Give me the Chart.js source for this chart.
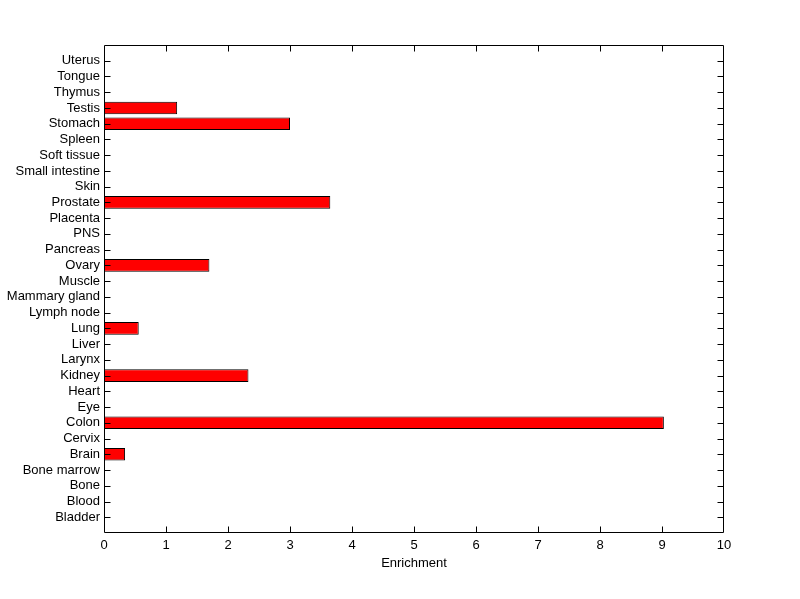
<!DOCTYPE html>
<html>
<head>
<meta charset="utf-8">
<script src="https://cdn.jsdelivr.net/npm/chart.js@4/dist/chart.umd.min.js"></script>
<style>
  html, body { margin: 0; padding: 0; background: #fff; }
  #wrap { width: 800px; height: 599px; }
</style>
</head>
<body>
<div id="wrap"><canvas id="chart" width="800" height="599"></canvas></div>
<script>
// tissues listed bottom to top, as in the figure
const tissues = ['Bladder', 'Blood', 'Bone', 'Bone marrow', 'Brain', 'Cervix', 'Colon', 'Eye',
  'Heart', 'Kidney', 'Larynx', 'Liver', 'Lung', 'Lymph node', 'Mammary gland', 'Muscle',
  'Ovary', 'Pancreas', 'PNS', 'Placenta', 'Prostate', 'Skin', 'Small intestine',
  'Soft tissue', 'Spleen', 'Stomach', 'Testis', 'Thymus', 'Tongue', 'Uterus'];
const enrichment = [0, 0, 0, 0, 0.34, 0, 9.03, 0, 0, 2.33, 0, 0, 0.56, 0, 0, 0,
  1.70, 0, 0, 0, 3.65, 0, 0, 0, 0, 3.0, 1.18, 0, 0, 0];
const xTicks = [0, 1, 2, 3, 4, 5, 6, 7, 8, 9, 10];

const FONT = { family: 'Arial, "Liberation Sans", Helvetica, sans-serif', size: 13 };

// category axis runs top-down; pad with blank slots so the range is [0, n+1] like matlab
const labels = [''].concat(tissues.slice().reverse(), ['']);
const values = [null].concat(enrichment.slice().reverse().map(v => v === 0 ? null : v), [null]);

// box around the axes and inward tick marks on all four sides
const boxPlugin = {
  id: 'box',
  afterDraw(c) {
    const ctx = c.ctx;
    const a = c.chartArea;
    const xs = c.scales.x, ys = c.scales.y;
    const L = Math.round(a.left) + 0.5, R = Math.round(a.right) - 0.5;
    const T = Math.round(a.top) + 0.5, B = Math.round(a.bottom) - 0.5;
    ctx.save();
    ctx.strokeStyle = '#000';
    ctx.lineWidth = 1;
    ctx.beginPath();
    ctx.rect(L, T, R - L, B - T);
    xTicks.slice(1, -1).forEach(t => {
      const px = Math.round(xs.getPixelForValue(t)) + 0.5;
      ctx.moveTo(px, B); ctx.lineTo(px, B - 6);
      ctx.moveTo(px, T); ctx.lineTo(px, T + 6);
    });
    labels.forEach((lab, i) => {
      if (!lab) return;
      const py = Math.round(ys.getPixelForValue(i)) + 0.5;
      ctx.moveTo(L, py); ctx.lineTo(L + 6, py);
      ctx.moveTo(R, py); ctx.lineTo(R - 6, py);
    });
    ctx.stroke();
    ctx.restore();
  }
};

chart = new Chart(document.getElementById('chart').getContext('2d'), {
  type: 'bar',
  data: {
    labels: labels,
    datasets: [{
      data: values,
      backgroundColor: '#ff0000',
      borderColor: '#000000',
      borderWidth: 1,
      borderSkipped: false,
      barPercentage: 0.8,
      categoryPercentage: 1.0
    }]
  },
  options: {
    indexAxis: 'y',
    responsive: false,
    animation: false,
    layout: { padding: { left: 0, top: 45, right: 76, bottom: 28 } },
    plugins: {
      legend: { display: false },
      tooltip: { enabled: false }
    },
    scales: {
      y: {
        type: 'category',
        offset: false,
        grid: { display: false, drawTicks: false },
        border: { display: false },
        ticks: { color: '#000', font: FONT, padding: 4, autoSkip: false },
        afterFit: s => { s.width = 104; }
      },
      x: {
        min: 0,
        max: 10,
        grid: { display: false, drawTicks: false },
        border: { display: false },
        ticks: { color: '#000', font: FONT, stepSize: 1, padding: 5, maxRotation: 0 },
        title: { display: true, text: 'Enrichment', color: '#000', font: FONT, padding: { top: 0, bottom: 0 } },
        afterFit: s => { s.height = 38; }
      }
    }
  },
  plugins: [boxPlugin]
});
</script>
</body>
</html>
